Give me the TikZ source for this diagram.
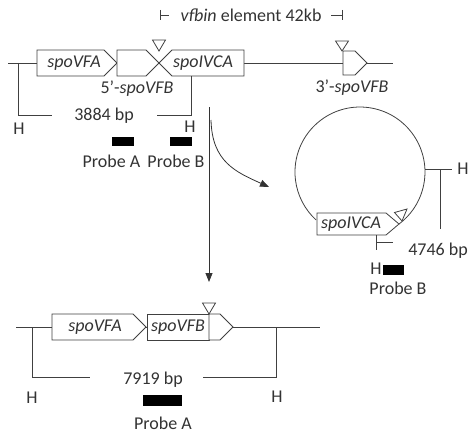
\documentclass[tikz,border=0pt]{standalone}
\usepackage{fontspec}
\setmainfont{Carlito}
\usetikzlibrary{arrows.meta}
\begin{document}
\begin{tikzpicture}[x=1pt,y=-1pt,
  dna/.style={line width=0.8pt,draw=black!75},
  gene/.style={line width=0.8pt,draw=black!75,fill=white},
  ins/.style={line width=0.8pt,draw=black!75,fill=white},
  probe/.style={fill=black,draw=none},
  lbl/.style={inner sep=0pt,text=black!80,font=\fontsize{18}{20}\selectfont},
  arr/.style={line width=0.8pt,draw=black!80,-{Triangle[length=9pt,width=7pt]}}]
\useasboundingbox (0,0) rectangle (470,433);

% ---------- header ----------
\draw[dna] (160,10) -- (160,20) (160,15) -- (169,15);
\draw[dna] (331,15) -- (342,15) (342,10) -- (342,20);
\node[lbl] (hdr) at (251,15) {\textit{vfbin} element 42kb};

% ---------- top construct ----------
\draw[dna] (8,63) -- (393,63);
\draw[gene] (37,50) -- (104,50) -- (117,63) -- (104,76) -- (37,76) -- cycle;
\draw[gene] (117,50) -- (146,50) -- (159,63) -- (146,76) -- (117,76) -- cycle;
\draw[gene] (159,63) -- (172,50) -- (244,50) -- (244,76) -- (172,76) -- cycle;
\draw[ins] (152.5,40) -- (165.5,40) -- (159,51) -- cycle;
\draw[gene] (343,51) -- (355,51) -- (367,63) -- (355,75) -- (343,75) -- cycle;
\draw[ins] (335.5,41) -- (348.5,41) -- (342,51) -- cycle;
\node[lbl] (vfa1) at (74,63) {\textit{spoVFA}};
\node[lbl] (vca1) at (203,63) {\textit{spoIVCA}};
\node[lbl] (vfb5) at (137,89) {5’-\textit{spoVFB}};
\node[lbl] (vfb3) at (352,88) {3’-\textit{spoVFB}};

\draw[dna] (18,63) -- (18,115) -- (52,115);
\draw[dna] (157,115) -- (191,115) -- (191,76);
\node[lbl] (h1) at (19,129) {H};
\node[lbl] (h2) at (190,127) {H};
\node[lbl] (bp1) at (104,116) {3884 bp};
\node[probe,minimum width=22pt,minimum height=9pt,inner sep=0pt] (pa1) at (123,141.5) {};
\node[probe,minimum width=22pt,minimum height=9pt,inner sep=0pt] (pb1) at (181,141.5) {};
\node[lbl] (tpa1) at (111.5,161) {Probe A};
\node[lbl] (tpb1) at (176,161) {Probe B};

% ---------- arrows ----------
\coordinate (a1s) at (209,107);
\coordinate (a1e) at (209,282);
\draw[arr] (a1s) -- (a1e);
\coordinate (a2s) at (211,120);
\coordinate (a2e) at (269,187);
\draw[arr] (a2s) .. controls (212,162) and (236,172) .. (a2e);

% ---------- circle ----------
\draw[dna] (399,224) arc[start angle=53.1, end angle=-227.5, radius=65];
\draw[gene] (317,213) -- (386,213) -- (399,224) -- (386,235) -- (317,235) -- cycle;
\draw[ins] (394.5,212.5) -- (407,209) -- (402,221) -- cycle;
\node[lbl] (vca2) at (351,224) {\textit{spoIVCA}};
\draw[dna] (425,169) -- (452,169) (440,169) -- (440,229);
\node[lbl] (h3) at (463,169) {H};
\node[lbl] (bp2) at (438,251) {4746 bp};
\draw[dna] (376,235) -- (376,250) (376,242) -- (393,242);
\node[lbl] (h4) at (376,269) {H};
\node[probe,minimum width=21pt,minimum height=10pt,inner sep=0pt] (pb2) at (393.5,270) {};
\node[lbl] (tpb2) at (398,288) {Probe B};

% ---------- bottom construct ----------
\draw[dna] (16,327) -- (320,327);
\draw[gene] (52,314) -- (133,314) -- (146,327) -- (133,340) -- (52,340) -- cycle;
\draw[gene] (147,314) rectangle (209,340);
\draw[gene] (209,314) -- (220,314) -- (233,327) -- (220,340) -- (209,340) -- cycle;
\draw[ins] (202.5,303) -- (215.5,303) -- (209,314) -- cycle;
\node[lbl] (vfa2) at (95,327) {\textit{spoVFA}};
\node[lbl] (vfb2) at (178,327) {\textit{spoVFB}};
\draw[dna] (32,327) -- (32,377) -- (90,377);
\draw[dna] (203,377) -- (276,377) -- (276,327);
\node[lbl] (h5) at (32,398) {H};
\node[lbl] (h6) at (277,397) {H};
\node[lbl] (bp3) at (153,380) {7919 bp};
\node[probe,minimum width=39pt,minimum height=11pt,inner sep=0pt] (pa2) at (162.5,400.5) {};
\node[lbl] (tpa2) at (163,423) {Probe A};
\end{tikzpicture}
\end{document}
